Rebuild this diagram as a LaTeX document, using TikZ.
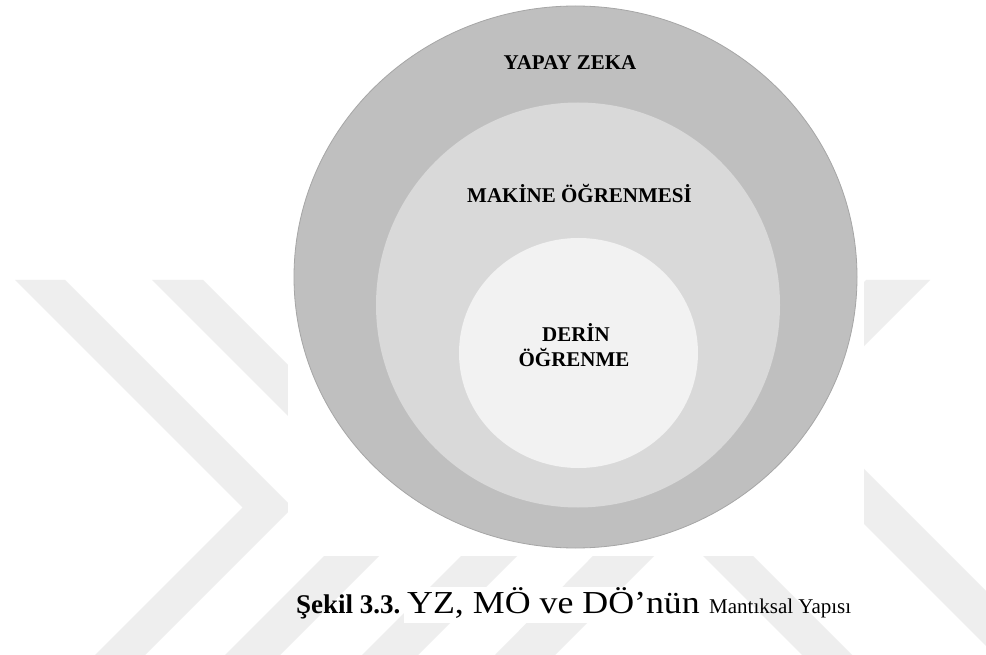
\documentclass[tikz,border=0pt]{standalone}
\usepackage{fontspec}
\usepackage{graphicx}
\usetikzlibrary{shapes.geometric}
\setmainfont{Liberation Serif}
\definecolor{ringA}{HTML}{BFBFBF}
\definecolor{ringB}{HTML}{D9D9D9}
\definecolor{ringC}{HTML}{F2F2F2}
\definecolor{ringedge}{HTML}{A6A6A6}
\definecolor{wmark}{HTML}{EEEEEE}
\tikzset{
  band/.style={fill=wmark, draw=none},
  settext/.style={font=\bfseries\fontsize{21}{25}\selectfont, anchor=base, inner sep=0pt},
  captext/.style={anchor=base west, inner sep=0pt}
}
\begin{document}
\begin{tikzpicture}[x=1pt, y=-1pt]
\useasboundingbox (0,0) rectangle (986,655);
\fill[white] (0,0) rectangle (986,655);
% background ribbons
\begin{scope}
\clip (0,280) rectangle (986,655);
\fill[band] (15,280) -- (65,280) -- (292.5,507.5) -- (145,655) -- (95,655) -- (242.5,507.5) -- cycle;
\fill[band] (152,280) -- (203,280) -- (429,506) -- (280,655) -- (225,655) -- (376,504) -- cycle;
\fill[band] (537,480) -- (593,480) -- (418,655) -- (362,655) -- cycle;
\fill[band] (866,280) -- (930,280) -- (555,655) -- (495,655) -- cycle;
\fill[band] (627,480) -- (677,480) -- (852,655) -- (802,655) -- cycle;
\fill[band] (640,300) -- (695,300) -- (1050,655) -- (995,655) -- cycle;
\end{scope}
% figure panel
\fill[white] (288,0) rectangle (864,556);
% nested sets
\node[ellipse, minimum width=563pt, minimum height=542pt, fill=ringA, draw=ringedge, line width=0.8pt, inner sep=0pt] (yz) at (575.5,277) {};
\node[ellipse, minimum width=404pt, minimum height=405pt, fill=ringB, inner sep=0pt] (mo) at (578,305) {};
\node[ellipse, minimum width=239pt, minimum height=230pt, fill=ringC, inner sep=0pt] (do) at (578.5,353) {};
\node[settext] (yzt) at (570,70) {YAPAY ZEKA};
\node[settext] (mot) at (579.5,203) {MAKİNE ÖĞRENMESİ};
\node[settext] (dot1) at (576,341.5) {DERİN};
\node[settext] (dot2) at (574,366) {ÖĞRENME};
% caption
\fill[white] (404,587) rectangle (704,623);
\node[captext, font=\bfseries\fontsize{27}{31}\selectfont] (c1) at (296,613) {Şekil 3.3.};
\node[captext, font=\fontsize{32}{36}\selectfont] (c2) at (407,613) {\scalebox{1.12}[1]{YZ, MÖ ve DÖ’nün}};
\node[captext, font=\fontsize{21}{24}\selectfont] (c3) at (709,613) {Mantıksal Yapısı};
\end{tikzpicture}
\end{document}
